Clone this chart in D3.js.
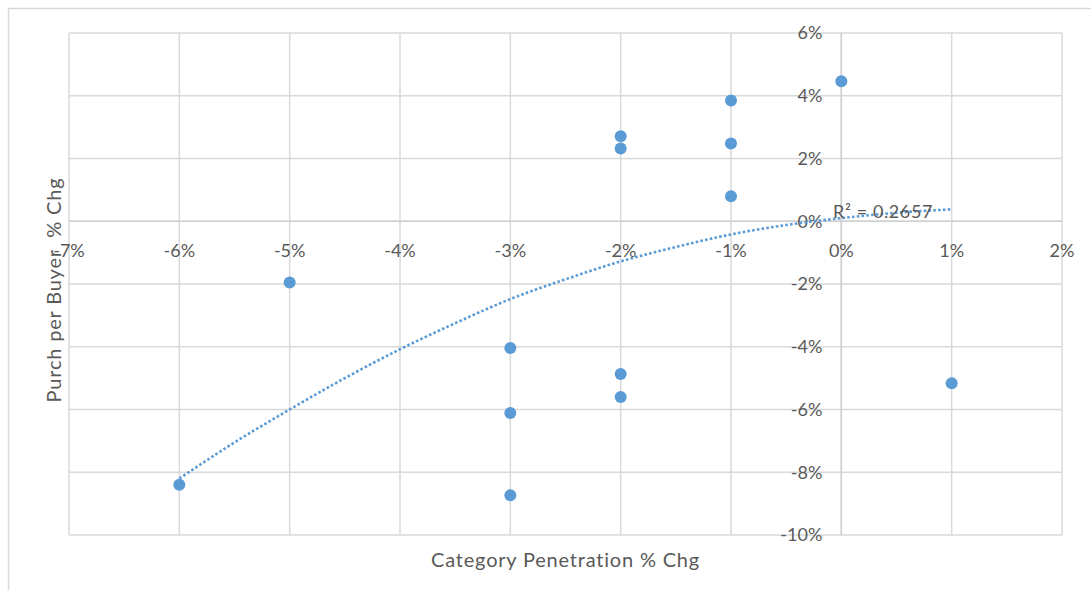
<!DOCTYPE html>
<html><head><meta charset="utf-8">
<script src="https://cdn.jsdelivr.net/npm/d3@7"></script>
<style>
html,body{margin:0;padding:0;background:#fff;}
svg{display:block;font-family:Lato,"Open Sans",sans-serif;}
</style></head>
<body>
<svg id="chart" width="1091" height="590"></svg>
<script>
// Data
const xValues = [-6, -5, -3, -3, -3, -2, -2, -2, -2, -1, -1, -1, 0, 1];
const yValues = [-8.4, -1.95, -4.04, -6.11, -8.73, 2.71, 2.32, -4.87, -5.6, 3.85, 2.48, 0.8, 4.46, -5.16];
const trendX = [-6, -5.5, -5, -4.5, -4, -3.5, -3, -2.5, -2, -1.5, -1, -0.5, 0, 0.5, 1];
const trendY = [-8.2, -7.05, -6.0, -5.0, -4.08, -3.25, -2.48, -1.85, -1.28, -0.82, -0.42, -0.12, 0.1, 0.27, 0.38];
const xTicks = [-7, -6, -5, -4, -3, -2, -1, 0, 1, 2];
const yTicks = [6, 4, 2, 0, -2, -4, -6, -8, -10];
const xTitle = "Category Penetration % Chg";
const yTitle = "Purch per Buyer  % Chg";
const r2Label = "R² = 0.2657";

const svg = d3.select("#chart");
const grid = "#d9d9d9", txt = "#595959", blue = "#5b9bd5";

const x = d3.scaleLinear().domain([-7, 2]).range([69, 1062]);
const y = d3.scaleLinear().domain([-10, 6]).range([535, 33]);

// outer frame
svg.append("rect").attr("x", 8.5).attr("y", 8.5).attr("width", 1100).attr("height", 600)
  .attr("fill", "none").attr("stroke", grid).attr("stroke-width", 1.5);

// gridlines
svg.append("g").selectAll("line").data(xTicks).join("line")
  .attr("x1", d => x(d)).attr("x2", d => x(d)).attr("y1", y(6)).attr("y2", y(-10))
  .attr("stroke", grid).attr("stroke-width", 1.5);
svg.append("g").selectAll("line").data(yTicks).join("line")
  .attr("y1", d => y(d)).attr("y2", d => y(d)).attr("x1", x(-7)).attr("x2", x(2))
  .attr("stroke", grid).attr("stroke-width", 1.5);

// axes lines
svg.append("line").attr("x1", x(0)).attr("x2", x(0)).attr("y1", y(6)).attr("y2", y(-10))
  .attr("stroke", "#cfcfcf").attr("stroke-width", 1.5);
svg.append("line").attr("y1", y(0)).attr("y2", y(0)).attr("x1", x(-7)).attr("x2", x(2))
  .attr("stroke", "#cfcfcf").attr("stroke-width", 1.5);

const fmt = d => d + "%";

// x tick labels
svg.append("g").selectAll("text").data(xTicks).join("text")
  .attr("x", d => x(d)).attr("y", y(0) + 29).attr("dy", "0.35em")
  .attr("text-anchor", "middle").attr("fill", txt).attr("font-size", 18)
  .text(fmt);

// y tick labels
svg.append("g").selectAll("text").data(yTicks).join("text")
  .attr("x", x(0) - 19).attr("y", d => y(d)).attr("dy", "0.35em")
  .attr("text-anchor", "end").attr("fill", txt).attr("font-size", 18)
  .text(fmt);

// trendline
const line = d3.line().x(d => x(d[0])).y(d => y(d[1])).curve(d3.curveMonotoneX);
svg.append("path").datum(trendX.map((v, i) => [v, trendY[i]]))
  .attr("d", line).attr("fill", "none").attr("stroke", blue)
  .attr("stroke-width", 2.6).attr("stroke-dasharray", "2.6,2.2");

// points
svg.append("g").selectAll("circle").data(xValues.map((v, i) => [v, yValues[i]])).join("circle")
  .attr("cx", d => x(d[0])).attr("cy", d => y(d[1])).attr("r", 6).attr("fill", blue);

// R² label
svg.append("text").attr("x", 833).attr("y", 212).attr("dy", "0.35em")
  .attr("fill", txt).attr("font-size", 18).attr("letter-spacing", 0.6).text(r2Label);

// axis titles
svg.append("text").attr("x", (x(-7) + x(2)) / 2).attr("y", 560).attr("dy", "0.35em")
  .attr("text-anchor", "middle").attr("fill", txt).attr("font-size", 20)
  .attr("letter-spacing", 0.8).text(xTitle);
svg.append("text").attr("transform", `translate(54,${290}) rotate(-90)`).attr("dy", "0.35em")
  .attr("text-anchor", "middle").attr("fill", txt).attr("font-size", 20)
  .attr("letter-spacing", 0.8).style("white-space", "pre").text(yTitle);
</script>
</body></html>
